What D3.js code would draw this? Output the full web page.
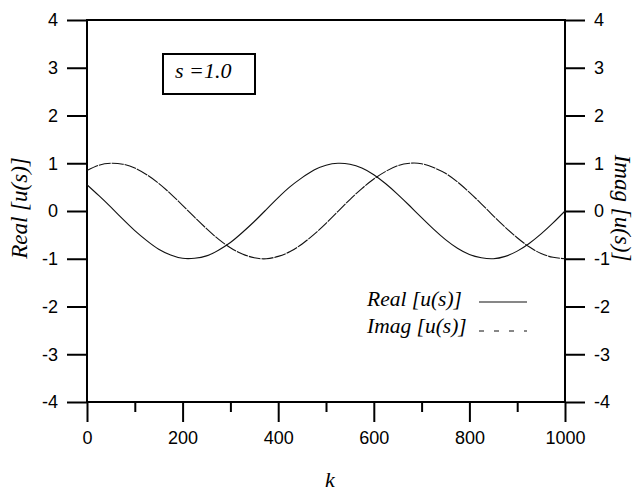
<!DOCTYPE html>
<html>
<head>
<meta charset="utf-8">
<script src="https://cdn.jsdelivr.net/npm/d3@7"></script>
<style>
  html, body { margin: 0; padding: 0; background: #fff; }
  svg { display: block; }
</style>
</head>
<body>
<svg id="chart" width="634" height="491"></svg>
<script>
// ---- data ----
const kValues = [0,25,50,75,100,125,150,175,200,225,250,275,300,325,350,375,400,425,450,475,500,
                 525,550,575,600,625,650,675,700,725,750,775,800,825,850,875,900,925,950,975,1000];
const realValues = [0.55,0.32,0.08,-0.17,-0.41,-0.62,-0.80,-0.92,-0.99,-0.99,-0.94,-0.82,-0.66,-0.45,-0.22,0.03,0.28,0.51,0.70,0.86,0.96,
                    1.00,0.98,0.90,0.76,0.57,0.35,0.11,-0.14,-0.38,-0.60,-0.78,-0.91,-0.98,-1.00,-0.95,-0.84,-0.68,-0.48,-0.25,0.00];
const imagValues = [0.85,0.96,1.00,0.98,0.90,0.76,0.58,0.36,0.12,-0.13,-0.37,-0.59,-0.77,-0.90,-0.98,-1.00,-0.95,-0.85,-0.69,-0.49,-0.26,
                    -0.01,0.24,0.47,0.67,0.83,0.95,1.00,0.99,0.91,0.79,0.61,0.39,0.15,-0.10,-0.34,-0.56,-0.75,-0.89,-0.97,-1.00];
const xMajorTicks = [0,200,400,600,800,1000];
const xMinorTicks = [100,300,500,700,900];
const yTicks = [-4,-3,-2,-1,0,1,2,3,4];
const seriesNames = ["Real [u(s)]", "Imag [u(s)]"];
const annotation = "s =1.0";
const xLabel = "k";

// ---- drawing ----
const svg = d3.select("#chart");
const x = d3.scaleLinear().domain([0,1000]).range([87,565]);
const y = d3.scaleLinear().domain([-4,4]).range([402,20]);

const tickFont = "'Liberation Sans', Arial, sans-serif";
const serif = "'Liberation Serif', 'Times New Roman', serif";

function styleAxis(g) {
  g.selectAll("path.domain").remove();
  g.selectAll(".tick line").attr("stroke","#000").attr("stroke-width",2);
  g.selectAll(".tick text").attr("fill","#000").style("font-family",tickFont).style("font-size","18px");
}

// frame
svg.append("rect").attr("x",x(0)).attr("y",y(4)).attr("width",x(1000)-x(0)).attr("height",y(-4)-y(4))
  .attr("fill","none").attr("stroke","#000").attr("stroke-width",2);

// left axis
svg.append("g").attr("transform",`translate(${x(0)},0)`)
  .call(d3.axisLeft(y).tickValues(yTicks).tickSize(20).tickPadding(9).tickSizeOuter(0).tickFormat(d=>String(d)))
  .call(styleAxis);
// right axis
svg.append("g").attr("transform",`translate(${x(1000)},0)`)
  .call(d3.axisRight(y).tickValues(yTicks).tickSize(20).tickPadding(9).tickSizeOuter(0).tickFormat(d=>String(d)))
  .call(styleAxis);
// bottom axis (major)
svg.append("g").attr("transform",`translate(0,${y(-4)})`)
  .call(d3.axisBottom(x).tickValues(xMajorTicks).tickSize(20).tickPadding(9).tickSizeOuter(0).tickFormat(d=>String(d)))
  .call(styleAxis);
// bottom axis (minor)
svg.append("g").attr("transform",`translate(0,${y(-4)})`)
  .call(d3.axisBottom(x).tickValues(xMinorTicks).tickSize(10).tickSizeOuter(0).tickFormat(""))
  .call(styleAxis);

// curves
const realData = kValues.map((k,i)=>({k, v: realValues[i]}));
const imagData = kValues.map((k,i)=>({k, v: imagValues[i]}));
const line = d3.line().x(d=>x(d.k)).y(d=>y(d.v)).curve(d3.curveNatural);

svg.append("path").datum(realData).attr("d",line)
  .attr("fill","none").attr("stroke","#111").attr("stroke-width",1.1);
svg.append("path").datum(imagData).attr("d",line)
  .attr("fill","none").attr("stroke","#111").attr("stroke-width",1.1).attr("stroke-dasharray","12,1");

// axis titles
svg.append("text").attr("transform","translate(27,208) rotate(-90)")
  .attr("text-anchor","middle").style("font-family",serif).style("font-style","italic").style("font-size","23px")
  .text(seriesNames[0]);
svg.append("text").attr("transform","translate(615,208) rotate(90)")
  .attr("text-anchor","middle").style("font-family",serif).style("font-style","italic").style("font-size","23px")
  .text(seriesNames[1]);
svg.append("text").attr("x",330).attr("y",487)
  .attr("text-anchor","middle").style("font-family",serif).style("font-style","italic").style("font-size","22px")
  .text(xLabel);

// annotation box
svg.append("rect").attr("x",163).attr("y",54).attr("width",92).attr("height",40)
  .attr("fill","#fff").attr("stroke","#000").attr("stroke-width",2);
svg.append("text").attr("x",175).attr("y",78)
  .style("font-family",serif).style("font-style","italic").style("font-size","22px").text(annotation);

// legend
const legendRows = [
  {name: seriesNames[0], dash: null, ty: 306, ly: 302},
  {name: seriesNames[1], dash: "5,10", ty: 333, ly: 331}
];
legendRows.forEach(r=>{
  svg.append("text").attr("x",367).attr("y",r.ty)
    .style("font-family",serif).style("font-style","italic").style("font-size","21.5px").text(r.name);
  const l = svg.append("line").attr("x1",479).attr("x2",527).attr("y1",r.ly).attr("y2",r.ly)
    .attr("stroke","#111").attr("stroke-width",1.1);
  if (r.dash) l.attr("stroke-dasharray",r.dash);
});
</script>
</body>
</html>
